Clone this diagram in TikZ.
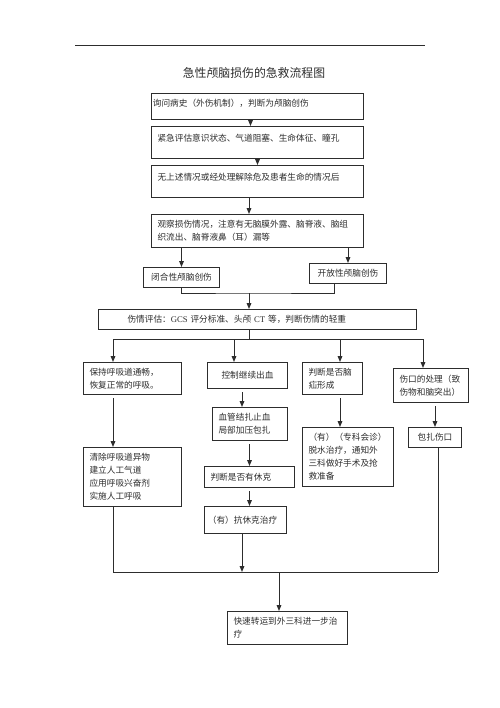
\documentclass[tikz,border=0pt]{standalone}
\usepackage{fontspec}
\setmainfont{Liberation Serif}
\newfontfamily\cjk{Noto Sans CJK SC}
\usetikzlibrary{arrows.meta}
\definecolor{inkgray}{RGB}{45,45,45}
\newcommand{\boxfont}{\fontsize{6.5pt}{9.75pt}\selectfont\cjk}
\newcommand{\titlefont}{\fontsize{8.9pt}{11pt}\selectfont\cjk}
\newcommand{\lat}[1]{{\rmfamily #1}}

\tikzset{every picture/.style={line width=0.75pt}}
\tikzset{
  stepbox/.style={draw=inkgray, anchor=north west, inner xsep=4.5pt, inner ysep=0pt, align=left, text=inkgray, font=\boxfont},
  midbox/.style={stepbox, align=center},
  arr/.style={draw=inkgray, -{Triangle[length=4.5pt,width=3.5pt]}},
  gaparr/.style={arr, shorten <=2.25pt},
  link/.style={draw=inkgray}
}

\begin{document}
\begin{tikzpicture}[x=0.75pt,y=0.75pt,yscale=-1,xscale=1]
\useasboundingbox (0,0) rectangle (500,708);
\fill[white] (0,0) rectangle (500,708);

%Straight Lines [page rule]
\draw[inkgray, line width=0.6pt] (75,45) -- (425,45);

% Text Node
\node[font=\titlefont, text=inkgray] (title) at (254,73) {急性颅脑损伤的急救流程图};

%Shape: Rectangle [top chain]
\node[stepbox, inner xsep=1pt, text width=157pt, minimum height=19.5pt, text depth=5pt] (hist) at (151,93) {询问病史（外伤机制），判断为颅脑创伤};
\node[stepbox, text width=150pt, minimum height=24pt, text depth=7.5pt] (assess) at (151,126) {紧急评估意识状态、气道阻塞、生命体征、瞳孔};
\node[stepbox, text width=150pt, minimum height=24pt, text depth=6.5pt] (none) at (151,165) {无上述情况或经处理解除危及患者生命的情况后};
\node[stepbox, text width=150pt, minimum height=24.75pt] (observe) at (151,214) {观察损伤情况，注意有无脑膜外露、脑脊液、脑组\\织流出、脑脊液鼻（耳）漏等};

%Shape: Rectangle [injury type]
\node[midbox, text width=48pt, minimum height=15pt] (closed) at (143,267) {闭合性颅脑创伤};
\node[midbox, text width=48.75pt, minimum height=15pt] (open) at (309,263) {开放性颅脑创伤};

%Shape: Rectangle [evaluation]
\node[stepbox, text width=229.5pt, minimum height=15pt] (eval) at (98,309) {\hspace*{17.25pt}伤情评估：\lat{GCS} 评分标准、头颅 \lat{CT} 等，判断伤情的轻重};

%Shape: Rectangle [column A]
\node[stepbox, text width=64.5pt, minimum height=24pt] (airway) at (83,362) {保持呼吸道通畅，\\恢复正常的呼吸。};
\node[stepbox, text width=64.5pt, minimum height=44.25pt] (clear) at (83,447) {清除呼吸道异物\\建立人工气道\\应用呼吸兴奋剂\\实施人工呼吸};

%Shape: Rectangle [column B]
\node[midbox, text width=51pt, minimum height=19.5pt] (bleed) at (207,362) {控制继续出血};
\node[stepbox, text width=47.25pt, minimum height=24.75pt] (ligate) at (212,407) {血管结扎止血\\局部加压包扎};
\node[stepbox, text width=58.5pt, minimum height=15.75pt] (shock) at (204,466) {判断是否有休克};
\node[stepbox, inner xsep=2.5pt, text width=56.25pt, minimum height=20.25pt] (anti) at (204,506) {（有）抗休克治疗};

%Shape: Rectangle [column C]
\node[stepbox, text width=36pt, minimum height=24pt] (hernia) at (302,362) {判断是否脑\\疝形成};
\node[stepbox, text width=59.25pt, minimum height=44.25pt] (dehyd) at (302,427) {（有）（专科会诊）\\脱水治疗，通知外\\三科做好手术及抢\\救准备};

%Shape: Rectangle [column D]
\node[stepbox, text width=47.25pt, minimum height=25.5pt] (wound) at (393,368) {伤口的处理（致\\伤物和脑突出）};
\node[midbox, text width=30.75pt, minimum height=15pt] (bandage) at (408,427) {包扎伤口};

%Shape: Rectangle [final]
\node[stepbox, text width=81pt, minimum height=24.75pt] (transfer) at (227,611) {快速转运到外三科进一步治\\疗};

% junction points
\coordinate (jn) at (249,293);
\coordinate (sA) at (113,339);
\coordinate (sB) at (234,339);
\coordinate (sC) at (340,339);
\coordinate (sD) at (423,339);
\coordinate (mA) at (113,572);
\coordinate (mB) at (242,572);
\coordinate (mD) at (438,572);
\coordinate (mF) at (279,572);

%Straight Lines [top chain]
\draw[arr] ([xshift=-5.25pt]hist.south) -- ([xshift=-5.25pt]assess.north);
\draw[arr] (assess.south) -- (none.north);
\draw[arr] (jn |- none.south) -- (jn |- observe.north);
\draw[arr] (closed.north |- observe.south) -- (closed.north);
\draw[arr] (open.north |- observe.south) -- (open.north);
\draw[link] (closed.south) |- (jn) -| ([xshift=-10.5pt]open.south);
\draw[arr] (jn) -- (jn |- eval.north);

%Straight Lines [split]
\draw[link] (jn |- eval.south) -- (jn |- sA);
\draw[link] (sA) -- (sD);
\draw[arr] (sA) -- (sA |- airway.north);
\draw[arr] (sB) -- (sB |- bleed.north);
\draw[arr] (sC) -- (sC |- hernia.north);
\draw[arr] (sD) -- (sD |- wound.north);

%Straight Lines [columns]
\draw[gaparr] (sA |- airway.south) -- (sA |- clear.north);
\draw[gaparr] (mB |- bleed.south) -- (mB |- ligate.north);
\draw[gaparr] (shock.north |- ligate.south) -- (shock.north);
\draw[gaparr] (shock.south) -- (shock.south |- anti.north);
\draw[gaparr] (sC |- hernia.south) -- (sC |- dehyd.north);
\draw[gaparr] (bandage.north |- wound.south) -- (bandage.north);

%Straight Lines [merge]
\draw[link] (mA |- clear.south) -- (mA);
\draw[link] (mD |- bandage.south) -- (mD);
\draw[link] (mA) -- (mD);
\draw[arr] (mB |- anti.south) -- (mB);
\draw[arr] (mF) -- (mF |- transfer.north);

\end{tikzpicture}
\end{document}
